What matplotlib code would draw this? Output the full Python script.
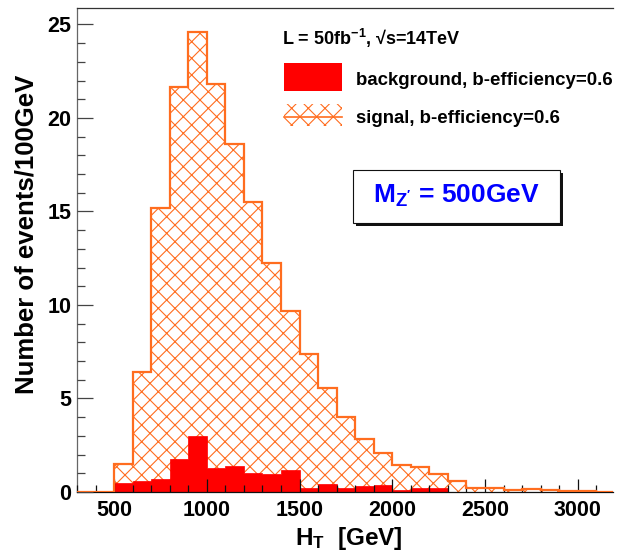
import numpy as np
import matplotlib
matplotlib.use("Agg")
import matplotlib.pyplot as plt
from matplotlib.patches import Rectangle
from matplotlib.ticker import MultipleLocator

# ---- data ----
bin_edges = list(range(300, 3300, 100))   # 100 GeV bins, 300..3200
signal = [0, 0, 1.5, 6.43, 15.2, 21.65, 24.6, 21.8, 18.6, 15.5, 12.25, 9.67,
          7.4, 5.55, 4.0, 2.84, 2.09, 1.45, 1.33, 0.98, 0.6, 0.2, 0.2, 0.09,
          0.18, 0.09, 0.04, 0.04, 0.0]
background = [0, 0, 0.47, 0.59, 0.72, 1.75, 3.0, 1.3, 1.4, 1.03, 0.95, 1.15,
              0.21, 0.41, 0.21, 0.31, 0.37, 0.12, 0.2, 0.2, 0, 0, 0, 0,
              0, 0, 0, 0, 0]
x_ticks = [500, 1000, 1500, 2000, 2500, 3000]
y_ticks = [0, 5, 10, 15, 20, 25]

ORANGE = '#ff6d1f'
RED = '#ff0000'
FONT = ['Liberation Sans', 'DejaVu Sans']

plt.rcParams['font.family'] = FONT
plt.rcParams['font.weight'] = 'bold'
plt.rcParams['mathtext.fontset'] = 'custom'
plt.rcParams['mathtext.rm'] = 'Liberation Sans:bold'
plt.rcParams['mathtext.bf'] = 'Liberation Sans:bold'
plt.rcParams['mathtext.it'] = 'Liberation Sans:bold'
plt.rcParams['mathtext.sf'] = 'Liberation Sans:bold'
plt.rcParams['hatch.linewidth'] = 0.8

W, H = 622, 552
fig = plt.figure(figsize=(W / 100, H / 100), dpi=100)
ax = fig.add_axes([77 / W, 60 / H, (613 - 77) / W, 484 / H])
ax.set_axisbelow(False)

edges = np.array(bin_edges)
# signal hatch
ax.stairs(signal, edges, fill=True, facecolor='none', edgecolor=ORANGE,
          hatch='xx', linewidth=0, zorder=1)
# background filled
ax.stairs(background, edges, fill=True, facecolor=RED, edgecolor=RED,
          linewidth=0.5, zorder=2)
# signal outline
ax.stairs(signal, edges, fill=False, color=ORANGE, linewidth=1.6, zorder=3)

ax.set_xlim(300, 3190)
ax.set_ylim(0, 25.88)

ax.set_xticks(x_ticks)
ax.set_xticklabels([str(v) for v in x_ticks])
ax.set_yticks(y_ticks)
ax.set_yticklabels([str(v) for v in y_ticks])
ax.xaxis.set_minor_locator(MultipleLocator(100))
ax.yaxis.set_minor_locator(MultipleLocator(1))
ax.tick_params(axis='x', which='major', direction='in', length=9.6, width=0.9,
               color='#111111', pad=6, labelsize=15.5)
ax.tick_params(axis='x', which='minor', direction='in', length=4.8, width=0.9,
               color='#111111')
ax.tick_params(axis='y', which='major', direction='in', length=11.5, width=0.9,
               color='#444444', pad=4, labelsize=15.5)
ax.tick_params(axis='y', which='minor', direction='in', length=5.8, width=0.9,
               color='#444444')
for lab in ax.get_xticklabels() + ax.get_yticklabels():
    lab.set_fontweight('bold')

ax.spines['right'].set_visible(False)
ax.spines['top'].set_color('#333333')
ax.spines['left'].set_color('#666666')
ax.spines['bottom'].set_color('#111111')
for s in ax.spines.values():
    s.set_linewidth(0.9)

# axis titles
fig.text(27 / W, 1 - 234 / H, 'Number of events/100GeV', rotation=90,
         ha='center', va='center', fontsize=18.5, fontweight='bold')
fig.text(295 / W, 1 - 545 / H, r'$\mathrm{H_{T}}$  [GeV]', ha='left',
         va='baseline', fontsize=17.5, fontweight='bold')

# legend
fig.text(282 / W, 1 - 45 / H, r'L = 50fb$^{\mathrm{-1}}$, ' + '\u221As=14TeV',
         ha='left', va='baseline', fontsize=13, fontweight='bold')
fig.patches.append(Rectangle((284 / W, 1 - 91 / H), 58 / W, 28 / H,
                             transform=fig.transFigure, facecolor=RED,
                             edgecolor='none'))
fig.text(355.7 / W, 1 - 85 / H, 'background, b-efficiency=0.6', ha='left',
         va='baseline', fontsize=13.4, fontweight='bold')
fig.patches.append(Rectangle((284 / W, 1 - 126 / H), 58 / W, 22 / H,
                             transform=fig.transFigure, facecolor='none',
                             edgecolor=ORANGE, hatch='xx', linewidth=0))
fig.lines.append(plt.Line2D([284 / W, 342 / W], [1 - 117 / H, 1 - 117 / H],
                            transform=fig.transFigure, color=ORANGE, lw=1.2))
fig.text(355.7 / W, 1 - 123 / H, 'signal, b-efficiency=0.6', ha='left',
         va='baseline', fontsize=13.4, fontweight='bold')

# M_Z' box with shadow
bx0, bx1, by0, by1 = 353.3, 560, 170, 222.7
fig.patches.append(Rectangle(((bx0 + 3) / W, 1 - (by1 + 3) / H), (bx1 - bx0) / W,
                             (by1 - by0) / H, transform=fig.transFigure,
                             facecolor='#111111', edgecolor='none'))
fig.patches.append(Rectangle((bx0 / W, 1 - by1 / H), (bx1 - bx0) / W,
                             (by1 - by0) / H, transform=fig.transFigure,
                             facecolor='white', edgecolor='#111111', lw=0.8))
fig.text(456 / W, 1 - 202.7 / H, r"$\mathrm{M_{Z'}}$ = 500GeV", ha='center',
         va='baseline', fontsize=19, fontweight='bold', color='#0000ff')

fig.savefig('out.png', dpi=100)
